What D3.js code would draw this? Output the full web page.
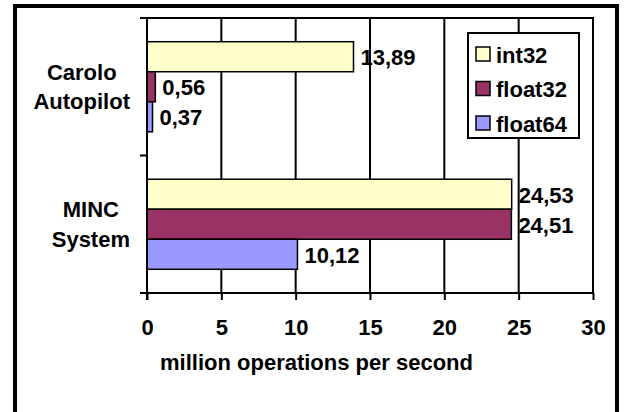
<!DOCTYPE html>
<html>
<head>
<meta charset="utf-8">
<script src="https://cdn.jsdelivr.net/npm/d3@7"></script>
<style>
  html, body { margin: 0; padding: 0; background: #fff; }
  svg { display: block; }
  text { font-family: Arial, "Liberation Sans", sans-serif; font-weight: bold; fill: #000; }
</style>
</head>
<body>
<svg id="chart" width="625" height="412"></svg>
<script>
// Throughput per platform and data type
const categories = ["Carolo Autopilot", "MINC System"];
const categoryLines = [["Carolo", "Autopilot"], ["MINC", "System"]];
const seriesNames = ["int32", "float32", "float64"];
const int32Values = [13.89, 24.53];
const float32Values = [0.56, 24.51];
const float64Values = [0.37, 10.12];
const xTickValues = [0, 5, 10, 15, 20, 25, 30];
const xTitle = "million operations per second";
const seriesColors = ["#FFFFCC", "#993366", "#9999FF"];

const seriesValues = [int32Values, float32Values, float64Values];

const FONT = 22;
const plot = { left: 147, right: 593, top: 18, bottom: 293 };

const svg = d3.select("#chart");

// outer chart frame (runs past the bottom edge)
svg.append("rect")
  .attr("x", 15).attr("y", 6)
  .attr("width", 602).attr("height", 440)
  .attr("fill", "#fff").attr("stroke", "#000").attr("stroke-width", 4);

const x = d3.scaleLinear().domain([0, 30]).range([plot.left, plot.right]);
const y = d3.scaleBand().domain(categories)
  .range([plot.top, plot.bottom])
  .paddingInner(0.345).paddingOuter(0.1725);
const ySub = d3.scaleBand().domain(seriesNames).range([0, y.bandwidth()]).padding(0);

// vertical gridlines
svg.append("g").selectAll("line")
  .data(xTickValues.filter(v => v > 0 && v < 30))
  .join("line")
  .attr("x1", d => x(d)).attr("x2", d => x(d))
  .attr("y1", plot.top).attr("y2", plot.bottom)
  .attr("stroke", "#000").attr("stroke-width", 2);

// plot area border (top and right)
svg.append("path")
  .attr("d", `M${plot.left},${plot.top}H${plot.right}V${plot.bottom}`)
  .attr("fill", "none").attr("stroke", "#000").attr("stroke-width", 2);

// bars
const rows = [];
categories.forEach((c, ci) => {
  seriesNames.forEach((s, si) => {
    rows.push({ cat: c, series: s, value: seriesValues[si][ci], color: seriesColors[si] });
  });
});

svg.append("g").selectAll("rect")
  .data(rows)
  .join("rect")
  .attr("x", x(0))
  .attr("y", d => y(d.cat) + ySub(d.series))
  .attr("width", d => x(d.value) - x(0))
  .attr("height", ySub.bandwidth())
  .attr("fill", d => d.color)
  .attr("stroke", "#000").attr("stroke-width", 1.5);

// value labels
const fmt = d3.formatLocale({ decimal: ",", thousands: ".", grouping: [3], currency: ["", ""] }).format(".2f");
svg.append("g").selectAll("text")
  .data(rows)
  .join("text")
  .attr("x", d => x(d.value) + 7)
  .attr("y", d => y(d.cat) + ySub(d.series) + ySub.bandwidth() / 2 + 1)
  .attr("dominant-baseline", "central")
  .attr("font-size", FONT)
  .text(d => fmt(d.value));

// x axis
const xAxis = d3.axisBottom(x).tickValues(xTickValues).tickSize(7).tickPadding(0).tickFormat(d3.format("d"));
const gx = svg.append("g").attr("transform", `translate(0,${plot.bottom})`).call(xAxis);
gx.select(".domain").attr("stroke", "#000").attr("stroke-width", 2).attr("d", `M${plot.left},0H${plot.right}`);
gx.selectAll(".tick line").attr("stroke", "#000").attr("stroke-width", 2);
gx.selectAll(".tick text")
  .attr("y", 34).attr("dy", null)
  .attr("dominant-baseline", "central")
  .attr("font-size", FONT)
  .attr("font-family", null)
  .attr("fill", "#000");

// y axis with ticks at category boundaries
const boundaries = [plot.top].concat(categories.map(c => y(c) + y.bandwidth() + y.step() * y.paddingInner() / 2));
const gy = svg.append("g");
gy.append("line")
  .attr("x1", plot.left).attr("x2", plot.left)
  .attr("y1", plot.top).attr("y2", plot.bottom + 7)
  .attr("stroke", "#000").attr("stroke-width", 2);
gy.selectAll(".ytick")
  .data(boundaries)
  .join("line")
  .attr("class", "ytick")
  .attr("x1", plot.left - 7).attr("x2", plot.left)
  .attr("y1", d => d).attr("y2", d => d)
  .attr("stroke", "#000").attr("stroke-width", 2);

// category labels: lines centred within a block right-aligned to the axis
const lineGap = 29.5;
const labelRight = 130;
categories.forEach((c, ci) => {
  const lines = categoryLines[ci];
  const cy = y(c) + y.bandwidth() / 2;
  const g = svg.append("g");
  const texts = g.selectAll("text")
    .data(lines)
    .join("text")
    .attr("y", (d, i) => cy + (i - (lines.length - 1) / 2) * lineGap)
    .attr("dominant-baseline", "central")
    .attr("text-anchor", "middle")
    .attr("font-size", FONT)
    .text(d => d);
  let maxW = 0;
  texts.each(function () { maxW = Math.max(maxW, this.getComputedTextLength()); });
  texts.attr("x", labelRight - maxW / 2);
});

// axis title
svg.append("text")
  .attr("x", 316.5).attr("y", 362)
  .attr("text-anchor", "middle")
  .attr("dominant-baseline", "central")
  .attr("font-size", FONT)
  .text(xTitle);

// legend
const legend = svg.append("g");
legend.append("rect")
  .attr("x", 468).attr("y", 33).attr("width", 111).attr("height", 105)
  .attr("fill", "#fff").attr("stroke", "#000").attr("stroke-width", 2);
const legendY = d3.scalePoint().domain(seriesNames).range([54, 123]);
const items = legend.selectAll("g.item")
  .data(seriesNames)
  .join("g").attr("class", "item");
items.append("rect")
  .attr("x", 476).attr("y", d => legendY(d) - 7)
  .attr("width", 14).attr("height", 14)
  .attr("fill", (d, i) => seriesColors[i])
  .attr("stroke", "#000").attr("stroke-width", 1.5);
items.append("text")
  .attr("x", 496).attr("y", d => legendY(d) + 1)
  .attr("dominant-baseline", "central")
  .attr("font-size", FONT)
  .text(d => d);
</script>
</body>
</html>
